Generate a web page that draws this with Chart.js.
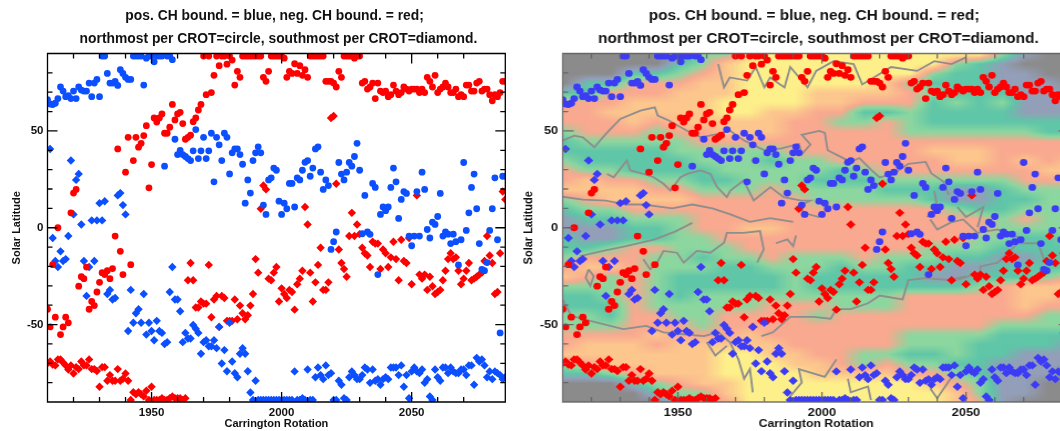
<!DOCTYPE html>
<html>
<head>
<meta charset="utf-8">
<title>CH boundaries</title>
<script src="https://cdn.jsdelivr.net/npm/chart.js@4/dist/chart.umd.min.js"></script>
<style>
  html, body { margin: 0; padding: 0; background: #fff; width: 1060px; height: 431px; overflow: hidden; }
  canvas { position: absolute; top: 0; }
  #left-plot { left: 0; }
  /* the right panel is the same figure stretched sideways, and runs off the page */
  #right-plot { left: 509.7px; transform: scaleX(1.1077); transform-origin: 0 0; }
</style>
</head>
<body>
<canvas id="left-plot" width="553" height="431"></canvas>
<canvas id="right-plot" width="553" height="431"></canvas>
<script>
'use strict';

/* ── Data, one value per Carrington rotation from 1910 ── */
const firstCrot = 1910;

const northPos = [66.2,63.9,63.6,64.3,66.7,72.7,70.6,67.7,68.2,66.7,70.6,66.7,72.7,71.1,70.6,70.6,74.7,67.7,74.7,76.6,67.7,88.7,88.7,79.7,74.7,74.7,75.6,73.5,81.6,79.7,77.7,76.6,76.6,88.7,88.7,88.7,88.7,73.7,87.6,88.7,88.7,85.7,88.7,88.7,88.7,31.8,88.7,88.7,86.8,45.7,37.8,39.9,37.8,36.8,35.7,34.7,39.7,50.7,35.7,39.7,46.7,35.7,39.7,48.8,23.7,46.7,42.8,34.7,48.8,46.7,27.8,38.7,40.7,40.7,37.8,32.8,12.7,24.7,17.9,34.7,38.7,41.8,38.7,11.7,6.9,24.7,25.8,30.8,29.7,13.7,6.9,12.7,9.8,22.9,22.9,10.7,25.8,24.7,29.7,33.8,34.7,26.6,30.8,40.7,41.8,28.7,19.8,24.7,21.8,-11.2,-7.2,-2.2,33.7,27.7,24.7,28.7,33.7,31.8,36.8,43.6,29.7,-3.1,16.7,-2.2,-3.4,22.9,20.8,-24.2,6.9,10.7,8.8,10.7,20.8,30.8,23.7,4.8,14.6,18.7,17.7,-4.3,-9.3,-4.3,18.7,-4.3,28.7,19.8,-0.9,-5.3,2.9,1.7,5.8,17.7,-4.3,-2.2,-3.3,-8.2,-3.3,-7.2,-19.2,-6.2,33.7,-1.4,7.7,20.8,27.7,9.8,-8.2,-21.5,-22.2,-18,-1.4,9.8,25.8,-6.2,-54.3,26.6,26.6];

const northNeg = [-42.1,-51.2,-19.1,-46.2,0,-55.2,-51.2,-46.2,-49.1,7.7,17.9,19.8,-30.2,-25.3,-26.3,-20.3,-42.1,-38.1,-40.2,-33.2,-28.2,-23.2,-24.2,-22.2,-26.3,-21.1,-4.3,40.7,-12.2,-24.2,28.7,46.7,-19.1,34.7,46.7,41.6,43.6,47.6,52.7,20.6,32.6,56.7,54.6,56.7,58.8,48.8,48.8,51.9,63.7,55.7,58.8,59.6,53.8,45.7,46.7,47.8,54.8,56.7,60.8,63.7,88.7,68.7,88.7,69.8,78.7,88.7,83.7,88.7,88.7,84.5,88.7,86.6,73.7,80.8,77.7,88.7,88.7,88.7,88.7,88.7,88.7,88.7,88.7,77.7,75.6,80.8,88.7,88.7,88.7,88.7,88.7,87.6,77.7,80.8,79.7,84.7,79.7,83.7,78.7,81.6,77.7,88.7,88.7,88.7,88.7,88.7,88.7,75.6,75.6,75.6,74.7,72.7,80.8,77.7,88.7,88.7,88.7,88.7,87.6,88.7,88.7,74.7,75.6,71.6,72.7,74.7,66.7,74.7,70.6,69.8,70.6,67.7,68.7,73.7,70.6,68.7,69.8,72.7,71.6,70.6,71.6,71.6,71.6,69.8,71.6,69.8,77.7,75.6,72.7,78.7,69.8,71.6,72.7,74.7,72.7,69.8,69.8,71.6,67.7,68.7,67.7,73.7,73.7,70.6,70.6,74.7,75.6,70.6,71.6,71.6,68.7,65.6,68.7,67.7,69.8,75.6,75.6];

const southPos = [null,40.7,-5.3,-17.2,-20.3,-12.2,-17.2,-16.2,-4.3,34.7,6.9,24.7,27.8,1.7,-17.2,-35.2,-20.3,3.8,-17.2,3.8,12.7,3.8,13.7,-34.2,-32.1,-37.1,-36.3,16.7,17.9,11.7,6.9,-53.3,-32.1,-49.1,-44.2,-42.1,-49.1,-34.2,-55.2,-49.1,-53.3,-58.1,-48.1,-53.3,-54.3,-60.1,-59.1,-33.2,-20.3,-37.1,-37.1,-43.1,-59.1,-54.3,-57.2,-57.2,-50.2,-52.2,-54.3,-65.1,-59.1,-58.1,-61.2,-61.2,-58.1,-62.2,-51.2,-70.1,-63.2,-74.1,-49.1,-69.1,-75.1,-77.2,-65.1,-62.2,-65.1,-74.1,-85.1,-89,-79,-89,-89,-89,-89,-89,-89,-89,-89,-89,-89,-89,-89,-89,-89,-74.2,-89,-89,-88.1,-89,-73.2,-89,-89,-77.2,-72.2,-76.1,-78.2,-71.1,-76.1,-75.1,-89,-89,-79,-81.1,-88.1,-89,-77.2,-74.2,-76.1,-78.2,-78.2,-76.1,-72.2,-73.2,-80.1,-73.2,-79,-78.2,-81.1,-78.2,-77.2,-78.2,-72.2,-72.2,-72.2,-76.1,-71.1,-82.1,-76.1,-88.1,-74.2,-72.2,-74.2,-75.1,-73.2,-80.1,-78.2,-87.1,-89,-73.2,-77.2,-79,-72.2,-72.2,-75.1,-72.2,-74.2,-75.1,-75.1,-73.2,-73.2,-76.1,-71.1,-71.1,-81.1,-67.2,-69.1,-68,-71.1,-77.2,-74.2,-78.2,-74.2,-75.1,-76.1,-78.2,-77.2];

const southNeg = [-70,-69.1,-70.6,-71.1,-68,-68,-69.6,-71.1,-73.2,-71.1,-75.3,-72,-73,-69.1,-71.1,-71.1,-68,-73,-73,-74,-82.1,-72,-72,-79,-76.1,-79,-79,-73,-79,-78,-75.3,-79,-89,-85,-86,-85,-86,-87.1,-84.2,-89,-82.1,-89,-89,-89,-88.1,-89,-89,-88.1,-87.1,-88.1,-88.1,-88.1,-89,-88.1,-27.1,-18.2,-27.1,-41.2,-41.2,-38.1,-39.2,-39.2,-19.2,-46.2,-37.1,-35.2,-51.2,-35.2,-36.3,-48.1,-48.1,-48.1,-37.1,-47.3,-40.2,-44.2,-47.3,-45.2,-40.2,-34.2,-16.2,-23.2,9.8,21.8,19.8,-26.3,-27.1,-23.2,-20.3,-38.1,-31.3,-34.2,-36.3,-32.1,-33.2,-42.3,-29.2,-26.3,-22.2,10.7,1.7,-23.2,-38.1,-28.2,-19.2,-10.3,-32.1,-32.1,-28.2,56.7,57.7,22.7,-11.2,-18.2,-21.3,-25.3,-4.3,7.7,-4.3,1.7,-3.3,-10.3,-13.2,-14.3,-20.3,-7.2,-8.2,-8.2,-21.3,-11.2,-13.2,-20.3,-15.3,-7.2,-16.2,-27.1,-6.2,-17.2,-18.2,-5.3,-29.2,null,16.7,-24.2,-26.3,-24.2,-32.1,-25.3,-30.2,-34.2,-33.2,-32.1,-27.1,-22.2,-16.2,-13.2,-16.2,-15.3,-22.2,-29.2,-26.3,-22.2,-18.2,-27.1,-26.3,-25.3,-24.2,-23.2,-17.2,-4.3,-14.3,-18.2,-34.2,-33.2,-13.2,18.7,14.6];

/* Background map of the right panel: colour level per latitude row (90 … -90, step 5)
   and per rotation column (1910 … 2086, step 8). 0 grey … 6 yellow. */
const mapLevelRows = [
  '00000033566666666663100',
  '00000235666666666321000',
  '00022345666666663221100',
  '02244455666666532221110',
  '22444555666555543222111',
  '44455556666554442323111',
  '44555556655442232222111',
  '44454555554433432222222',
  '34443445554444433333322',
  '23333344444444444444444',
  '22222333334444445554444',
  '32222233323344444554545',
  '43322223333323444444455',
  '45443322333222333333444',
  '55554433343333222112333',
  '34555544444333332112233',
  '23344444444444444322333',
  '12233344444444444443433',
  '11122344554444444443333',
  '21122334444444444433223',
  '22344333444444443332222',
  '34443323343334333221122',
  '45543332233323322112222',
  '54343222223222221122234',
  '33343222223222222234555',
  '22343233333333344444554',
  '22243333344433344444544',
  '33244334444344444444433',
  '33344434444444444443333',
  '44445444544444433332222',
  '45554555554444433322221',
  '55555556655443322322111',
  '34555556665543433221111',
  '22345556666555544321110',
  '00023455666666665431100',
  '00002335666666666531100',
  '00000234666666666541000'
];
const mapFirstLat = 90;
const mapLatStep = -5;
const mapCrotStep = 8;
const mapColours = ['#8b8b8b', '#939fb8', '#5fc6a8', '#8cd79f', '#f9a98f', '#fcc68d', '#fdf08a'];

/* Grey contour lines on the map, traced as [rotation, latitude] */
const contourNorthA = [[1910,45],[1914,47.6],[1917,46.7],[1921,41.6],[1925,48.5],[1930,56.2],[1937,60.5],[1942,62.2],[1943,57.9],[1947,55.3],[1953,50.2],[1958,46.7],[1964,48.5],[1968,50.2],[1973,45],[1980,40],[1986,41],[1992,43.3],[1993,38],[1996,43],[1993,48],[1996,49],[1999,50],[2001,49],[2002,40],[2006,37],[2010,34],[2013,36],[2017,30],[2020,26],[2025,28],[2030,33],[2036,34],[2038,28],[2042,24],[2044,17]];
const contourNorthB = [[1925.4,27.8],[1927.7,26.1],[1932.3,34.7],[1933.5,29.6],[1938.1,27.8],[1941.6,26.1],[1945,22.7],[1947.4,19.2],[1950.9,26.1],[1953.2,27.8],[1957.8,29.6],[1961.3,27.8],[1963.6,21],[1967,15.8],[1968.2,19.2],[1972.8,24.4],[1976.3,14.1],[1982.1,21],[1986.7,15.8],[1992.5,14.1],[1996,14],[1991.3,10.7],[1994.8,7.2],[1999,5.5]];
const contourNorthC = [[1910,16],[1917,14.5],[1925,14],[1932,12],[1938,12],[1948,10],[1955,12],[1962,10],[1968,7],[1975,3],[1982,5],[1990,3]];
const contourNorthD = [[2039,19],[2040,10.7],[2036.5,5.5]];
const contourNorthE = [[2047,10.7],[2050,5.5],[2056,10.7],[2054,0.3]];
const contourCap = [[1964,84.5],[1966,72.5],[1968,77.6],[1974,76],[1977,83],[1980,72.5],[1982,77.6],[1987,72.5],[1989,83],[1995,72.5],[1998,81],[2004,86],[2011,84.5],[2014,74],[2024,83],[2033,81],[2039,86],[2045,84.5],[2050,88]];
const contourSouthA = [[1916,-14.6],[1924,-12],[1932,-9.5],[1942,-6],[1949,-2],[1955,2.5]];
const contourSouthB = [[1938,-16.3],[1940.4,-21.5],[1942.8,-18],[1945,-12],[1949.7,-12.9],[1952,-18],[1956.6,-12],[1961.3,-12.9],[1966,-7.7],[1967,-2.6],[1972.8,-2.6],[1978.5,-1.7],[1979.8,-11.2],[1977.5,-18]];
const contourSouthB2 = [[1984,-8],[1988,-6],[1990,-9.5],[1991,-4]];
const contourSouthC = [[1910,-37],[1913,-45.5],[1922,-49],[1931,-52.4],[1939,-50.7],[1945,-54],[1952,-55],[1959,-56],[1964,-54],[1968,-59],[1971,-68],[1973,-78],[1975,-73],[1976,-85]];
const contourSouthC2 = [[1960,-59],[1963,-66],[1967,-61]];
const contourSouthD = [[1979,-56],[1983,-54],[1989,-46],[1997,-46],[2003,-47],[2005,-42],[2010,-42],[2016,-39],[2020,-35],[2028,-37],[2030,-27],[2036,-26],[2044,-27],[2050,-25]];
const contourSouthD2 = [[2047,-27],[2055,-23],[2055,-20],[2061,-18],[2068,-8],[2075,-8],[2077,-16]];
const contourSouthE = [[2005,-68],[2001,-77],[1992,-73],[1993,-80],[1989,-87]];
const contourSouthF = [[2009,-78],[2010,-85],[2016,-82],[2017,-89]];
const contourSouthG = [[2037.6,-83],[2040,-88],[2044.6,-78]];
const contourSouthH = [[2037.6,4.3],[2040,-0.9],[2044.6,2.6],[2049,4.3],[2054,-2.6],[2061,-0.9],[2070,-6]];
const contourBlob = [[1919,-21.5],[1918,-25.8],[1919.6,-30],[1920.8,-25],[1919,-21.5]];
const contours = [contourNorthA, contourNorthB, contourNorthC, contourNorthD, contourNorthE, contourCap, contourSouthA, contourSouthB, contourSouthB2, contourSouthC, contourSouthC2, contourSouthD, contourSouthD2, contourSouthE, contourSouthF, contourSouthG, contourSouthH, contourBlob];

const titleLines = ['pos. CH bound. = blue, neg. CH bound. = red; ', ' northmost per CROT=circle, southmost per CROT=diamond.'];
const labelFont = '"Liberation Sans", Arial, sans-serif';

/* ── Inward ticks and frame, like the original IDL axes ── */
const frameTicks = {
  id: 'frameTicks',
  // the title centres on the whole panel, not on the plot
  afterLayout(ch) { ch.titleBlock.right += 47.7; },
  afterDraw(ch, args, opts) {
    const { ctx, chartArea: a, scales: { x, y } } = ch;
    ctx.save();
    ctx.strokeStyle = opts.color;
    ctx.lineWidth = opts.width;
    ctx.beginPath();
    x.ticks.forEach(t => {
      const px = x.getPixelForValue(t.value);
      const len = t.value % 50 === 0 ? 10 : 5;
      ctx.moveTo(px, a.bottom); ctx.lineTo(px, a.bottom - len);
      ctx.moveTo(px, a.top);    ctx.lineTo(px, a.top + len);
    });
    y.ticks.forEach(t => {
      const py = y.getPixelForValue(t.value);
      const len = t.value % 50 === 0 ? 10 : 5;
      ctx.moveTo(a.left, py);  ctx.lineTo(a.left + len, py);
      ctx.moveTo(a.right, py); ctx.lineTo(a.right - len, py);
    });
    ctx.rect(a.left, a.top, a.right - a.left, a.bottom - a.top);
    ctx.stroke();
    ctx.restore();
  }
};

/* ── Background map: levels are blended and painted into the scales' rectangle ── */
function hexToRgb(h) {
  return [1, 3, 5].map(i => parseInt(h.slice(i, i + 2), 16));
}

function buildMapImage() {
  const rows = mapLevelRows.map(r => r.split('').map(Number));
  const rgb = mapColours.map(hexToRgb);
  const w = (rows[0].length - 1) * 6, h = (rows.length - 1) * 6;
  const off = document.createElement('canvas');
  off.width = w; off.height = h;
  const c = off.getContext('2d');
  const img = c.createImageData(w, h);
  for (let j = 0; j < h; j++) {
    const fy = j / 6, r0 = Math.floor(fy), ty = fy - r0;
    for (let i = 0; i < w; i++) {
      const fx = i / 6, c0 = Math.floor(fx), tx = fx - c0;
      const top = rows[r0][c0] * (1 - tx) + rows[r0][c0 + 1] * tx;
      const bot = rows[r0 + 1][c0] * (1 - tx) + rows[r0 + 1][c0 + 1] * tx;
      const lv = top * (1 - ty) + bot * ty;
      const l0 = Math.min(Math.floor(lv), 5), tl = lv - l0;
      const k = (j * w + i) * 4;
      for (let n = 0; n < 3; n++) img.data[k + n] = rgb[l0][n] * (1 - tl) + rgb[l0 + 1][n] * tl;
      img.data[k + 3] = 255;
    }
  }
  c.putImageData(img, 0, 0);
  return off;
}

const backgroundMap = {
  id: 'backgroundMap',
  beforeDatasetsDraw(ch) {
    if (!ch.$mapImage) ch.$mapImage = buildMapImage();
    const { ctx, scales: { x, y } } = ch;
    const lastCol = mapLevelRows[0].length - 1, lastRow = mapLevelRows.length - 1;
    const x0 = x.getPixelForValue(firstCrot), x1 = x.getPixelForValue(firstCrot + lastCol * mapCrotStep);
    const y0 = y.getPixelForValue(mapFirstLat), y1 = y.getPixelForValue(mapFirstLat + lastRow * mapLatStep);
    ctx.save();
    ctx.imageSmoothingEnabled = true;
    ctx.drawImage(ch.$mapImage, x0, y0, x1 - x0, y1 - y0);
    ctx.restore();
  }
};

/* ── Charts ── */
function seriesPoints(vals) {
  return vals.map((v, i) => ({ x: firstCrot + i, y: v }));
}

function markerDataset(vals, colour, style, radius) {
  return {
    type: 'scatter',
    data: seriesPoints(vals),
    pointStyle: style,
    pointRadius: radius,
    pointBorderWidth: 0,
    pointBackgroundColor: colour,
    borderColor: colour,
    showLine: false
  };
}

function makeChart(id, blue, red, frameColour, withMap) {
  const sets = [
    markerDataset(northPos, blue, 'circle', 3.4),
    markerDataset(northNeg, red, 'circle', 3.4),
    markerDataset(southPos, blue, 'rectRot', 4.2),
    markerDataset(southNeg, red, 'rectRot', 4.2)
  ];
  if (withMap) {
    contours.forEach(c => sets.push({
      type: 'line', data: c, borderColor: '#8e8e8e', borderWidth: 1.8,
      pointRadius: 0, tension: 0, fill: false
    }));
  }
  return new Chart(document.getElementById(id), {
    type: 'scatter',
    data: { datasets: sets },
    plugins: withMap ? [backgroundMap, frameTicks] : [frameTicks],
    options: {
      responsive: false,
      animation: false,
      devicePixelRatio: 1,
      layout: { padding: { left: 0, right: 47.7, top: 0, bottom: 0 } },
      plugins: {
        legend: { display: false },
        tooltip: { enabled: false },
        frameTicks: { color: frameColour, width: 1.3 },
        title: {
          display: true,
          text: titleLines,
          color: '#111',
          font: { family: labelFont, size: 13.85, weight: 'bold', lineHeight: 1.66 },
          padding: { top: 4.5, bottom: 3 }
        }
      },
      scales: {
        x: {
          type: 'linear', min: 1910, max: 2086,
          afterFit(s) { s.height = 29; },
          grid: { display: false, drawTicks: false },
          border: { display: false },
          ticks: {
            stepSize: 10, autoSkip: false, maxRotation: 0, padding: 4,
            color: '#111',
            font: { family: labelFont, size: 11.5, weight: 'bold' },
            callback: v => (v % 50 === 0 ? String(v) : '')
          },
          title: {
            display: true, text: 'Carrington Rotation', color: '#111', padding: 0,
            font: { family: labelFont, size: 11, weight: 'bold' }
          }
        },
        y: {
          type: 'linear', min: -90, max: 90,
          afterFit(s) { s.width = 47.5; },
          grid: { display: false, drawTicks: false },
          border: { display: false },
          ticks: {
            stepSize: 10, autoSkip: false, padding: 4,
            color: '#111',
            font: { family: labelFont, size: 11.5, weight: 'bold' },
            callback: v => (v % 50 === 0 ? String(v) : '')
          },
          title: {
            display: true, text: 'Solar Latitude', color: '#111', padding: { top: 10, bottom: 0 },
            font: { family: labelFont, size: 11, weight: 'bold' }
          }
        }
      }
    }
  });
}

makeChart('left-plot', '#0b4fff', '#ff0000', '#000', false);
makeChart('right-plot', '#3c3cf5', '#ff0000', 'rgba(95,95,95,0.85)', true);
</script>
</body>
</html>
